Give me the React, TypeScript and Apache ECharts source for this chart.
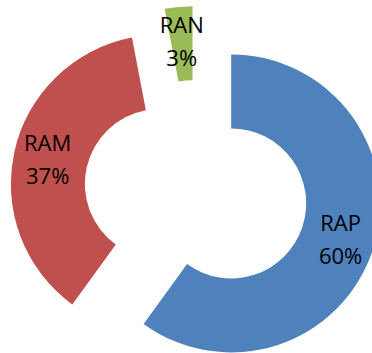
import React, { useEffect, useRef } from "react";
import * as echarts from "echarts";

const categories = ["RAP", "RAM", "RAN"];
const values = [60, 37, 3];
const colors = ["#4F81BD", "#C0504D", "#9BBB59"];

export default function App() {
  const ref = useRef<HTMLDivElement>(null);
  useEffect(() => {
    if (!ref.current) return;
    const chart = echarts.init(ref.current, undefined, { renderer: "svg" });
    const data = categories.map((name, i) => ({
      name,
      value: values[i],
      selected: true,
      itemStyle: { color: colors[i], borderWidth: 0 },
      select: { itemStyle: { color: colors[i], borderWidth: 0 } },
    }));
    chart.setOption({
      animation: false,
      backgroundColor: "#ffffff",
      series: [
        {
          type: "pie",
          center: [196, 192],
          radius: [75, 149],
          startAngle: 90,
          clockwise: true,
          selectedMode: "multiple",
          selectedOffset: 37,
          avoidLabelOverlap: false,
          silent: true,
          label: {
            show: true,
            position: "inside",
            formatter: (p: any) => `${p.name}\n${Math.round(p.percent)}%`,
            fontFamily: "Open Sans",
            fontSize: 22,
            lineHeight: 33,
            color: "#000000",
            textBorderWidth: 0,
          },
          labelLine: { show: false },
          emphasis: { disabled: true },
          data,
        },
      ],
    });
    return () => chart.dispose();
  }, []);
  return (
    <div
      ref={ref}
      style={{ position: "fixed", left: 0, top: 0, width: 372, height: 353 }}
    />
  );
}
